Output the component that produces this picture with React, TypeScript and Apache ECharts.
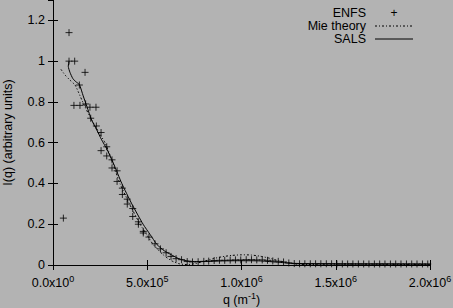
import React, { useEffect, useRef } from "react";
import * as echarts from "echarts";

// ENFS measured points (q in m^-1, intensity)
const enfsX = [55e3, 85e3, 85e3, 115e3, 111e3, 143e3, 140e3, 170e3, 173e3, 196e3, 200e3, 228e3, 230e3, 255e3, 255e3, 285e3, 285e3, 313e3, 313e3, 340e3, 340e3, 368e3, 368e3, 394e3, 394e3, 423e3, 423e3, 453e3, 453e3, 479e3, 479e3, 509e3, 541e3, 570e3, 600e3, 626e3, 653e3, 682e3, 712e3, 740e3, 770e3, 800e3, 826e3, 855e3, 883e3, 911e3, 940e3, 968e3, 996e3, 1025e3, 1053e3, 1081e3, 1110e3, 1138e3, 1166e3, 1195e3, 1223e3, 1251e3, 1280e3, 1308e3, 1336e3, 1365e3, 1393e3, 1421e3, 1450e3, 1478e3, 1506e3, 1535e3, 1563e3, 1591e3, 1620e3, 1648e3, 1676e3, 1705e3, 1733e3, 1761e3, 1790e3, 1818e3, 1846e3, 1875e3, 1903e3, 1931e3, 1960e3, 1988e3];
const enfsY = [0.23, 1.14, 1.0, 1.0, 0.783, 0.783, 0.883, 0.945, 0.79, 0.774, 0.72, 0.774, 0.682, 0.65, 0.561, 0.58, 0.535, 0.516, 0.476, 0.462, 0.41, 0.377, 0.346, 0.323, 0.299, 0.277, 0.238, 0.212, 0.2, 0.165, 0.157, 0.137, 0.104, 0.079, 0.06, 0.042, 0.031, 0.026, 0.017, 0.015, 0.016, 0.018, 0.019, 0.022, 0.023, 0.023, 0.024, 0.025, 0.025, 0.026, 0.026, 0.025, 0.025, 0.023, 0.02, 0.018, 0.015, 0.01, 0.007, 0.006, 0.006, 0.006, 0.006, 0.006, 0.006, 0.006, 0.005, 0.005, 0.005, 0.005, 0.005, 0.005, 0.005, 0.005, 0.005, 0.005, 0.005, 0.005, 0.005, 0.005, 0.005, 0.005, 0.005, 0.005];

// Mie theory curve
const mieX = [42e3, 64e3, 90e3, 117e3, 134e3, 161e3, 200e3, 250e3, 276e3, 300e3, 355e3, 400e3, 462e3, 500e3, 532e3, 585e3, 630e3, 670e3, 710e3, 750e3, 800e3, 850e3, 900e3, 950e3, 1000e3, 1050e3, 1100e3, 1150e3, 1200e3, 1250e3, 1300e3, 1350e3, 1400e3, 1500e3, 1600e3, 1700e3, 1800e3, 1900e3, 2000e3];
const mieY = [0.96, 0.932, 0.907, 0.883, 0.85, 0.793, 0.72, 0.64, 0.6, 0.545, 0.4, 0.31, 0.2, 0.145, 0.1, 0.05, 0.02, 0.006, 0.002, 0.006, 0.018, 0.031, 0.041, 0.047, 0.05, 0.049, 0.043, 0.033, 0.02, 0.01, 0.004, 0.002, 0.003, 0.005, 0.005, 0.004, 0.003, 0.002, 0.002];

// SALS curve
const salsX = [85e3, 81e3, 90e3, 105e3, 120e3, 140e3, 160e3, 180e3, 205e3, 232e3, 258e3, 285e3, 320e3, 365e3, 418e3, 478e3, 515e3, 552e3, 590e3, 628e3, 665e3, 700e3, 750e3, 800e3, 900e3, 1000e3, 1100e3, 1200e3, 1280e3, 1400e3, 1600e3, 1800e3, 2000e3];
const salsY = [1.0, 0.975, 0.945, 0.915, 0.9, 0.885, 0.83, 0.777, 0.711, 0.663, 0.614, 0.57, 0.5, 0.4, 0.3, 0.2, 0.15, 0.1, 0.07, 0.05, 0.032, 0.022, 0.017, 0.017, 0.02, 0.021, 0.02, 0.013, 0.008, 0.006, 0.005, 0.005, 0.004];

const seriesNames = ["ENFS", "Mie theory", "SALS"];
const xTitle = "q (m";
const xTitleSup = "-1";
const yTitle = "I(q) (arbitrary units)";

const FONT = "Liberation Sans, Arial, Helvetica, sans-serif";
const BG = "#b3b3b3";
const PLUS = "path://M5,0L5,10M0,5L10,5";

function fmtX(v: number): string {
  let exp = 0;
  let mant = 0;
  if (v !== 0) {
    exp = Math.floor(Math.log10(Math.abs(v)) + 1e-9);
    mant = v / Math.pow(10, exp);
  }
  return `{m|${mant.toFixed(1)}x10}{e|${exp}}`;
}

export default function App() {
  const ref = useRef<HTMLDivElement>(null);
  useEffect(() => {
    if (!ref.current) return;
    const chart = echarts.init(ref.current, null, { renderer: "svg" });
    const axisLine = { show: true, lineStyle: { color: "#000", width: 1 } };
    const axisTick = { show: true, inside: true, length: 5, lineStyle: { color: "#000", width: 1 } };
    const legendRight = 366;
    const sampleL = 375;
    const sampleR = 413;
    const rowY = [12.5, 25.5, 38.5];
    const rich = {
      m: { fontSize: 12.5, fontFamily: FONT, color: "#000" },
      e: { fontSize: 9, fontFamily: FONT, color: "#000", padding: [0, 0, 9, 0] },
    };
    chart.setOption({
      animation: false,
      backgroundColor: BG,
      textStyle: { fontFamily: FONT, color: "#000" },
      grid: { left: 53, right: 23, top: 0, bottom: 43, containLabel: false, outerBoundsMode: "none" },
      xAxis: [
        {
          type: "value",
          min: 0,
          max: 2e6,
          interval: 5e5,
          axisLine,
          axisTick,
          splitLine: { show: false },
          axisLabel: { margin: 9, formatter: fmtX, rich },
          name: `{m|${xTitle}}{e|${xTitleSup}}{m|)}`,
          nameLocation: "middle",
          nameGap: 26,
          nameMoveOverlap: false,
          nameTextStyle: { rich },
        },
        {
          type: "value",
          position: "top",
          min: 0,
          max: 2e6,
          interval: 5e5,
          axisLine,
          axisTick,
          axisLabel: { show: false },
          splitLine: { show: false },
        },
      ],
      yAxis: [
        {
          type: "value",
          min: 0,
          max: 1.3,
          interval: 0.2,
          axisLine,
          axisTick,
          splitLine: { show: false },
          axisLabel: {
            margin: 8,
            fontSize: 12.5,
            fontFamily: FONT,
            color: "#000",
            showMaxLabel: false,
            formatter: (v: number) => (Math.abs(v - 1.3) < 1e-6 ? "" : String(Math.round(v * 10) / 10)),
          },
          name: yTitle,
          nameLocation: "middle",
          nameGap: 39,
          nameMoveOverlap: false,
          nameTextStyle: { fontSize: 12.5, fontFamily: FONT, color: "#000" },
        },
        {
          type: "value",
          position: "right",
          min: 0,
          max: 1.3,
          interval: 0.2,
          axisLine,
          axisTick,
          axisLabel: { show: false },
          splitLine: { show: false },
        },
      ],
      series: [
        {
          name: seriesNames[0],
          type: "scatter",
          data: enfsX.map((x, i) => [x, enfsY[i]]),
          symbol: PLUS,
          symbolSize: 7,
          itemStyle: { color: "rgba(0,0,0,0)", borderColor: "#000", borderWidth: 1 },
          z: 3,
        },
        {
          name: seriesNames[1],
          type: "line",
          data: mieX.map((x, i) => [x, mieY[i]]),
          showSymbol: false,
          smooth: 0.2,
          lineStyle: { color: "#000", width: 1, type: [2, 2, 1, 2] },
        },
        {
          name: seriesNames[2],
          type: "line",
          data: salsX.map((x, i) => [x, salsY[i]]),
          showSymbol: false,
          smooth: 0.2,
          lineStyle: { color: "#000", width: 1 },
        },
      ],
      graphic: [
        ...seriesNames.map((n, i) => ({
          type: "text",
          x: legendRight,
          y: rowY[i],
          style: { text: n, fill: "#000", font: `12.5px ${FONT}`, align: "right", verticalAlign: "middle" },
        })),
        {
          type: "text",
          x: (sampleL + sampleR) / 2,
          y: rowY[0],
          style: { text: "+", fill: "#000", font: `12px ${FONT}`, align: "center", verticalAlign: "middle" },
        },
        {
          type: "line",
          shape: { x1: sampleL, y1: rowY[1] + 0.5, x2: sampleR, y2: rowY[1] + 0.5 },
          style: { stroke: "#000", lineWidth: 1, lineDash: [2, 2, 1, 2] },
        },
        {
          type: "line",
          shape: { x1: sampleL, y1: rowY[2] + 0.5, x2: sampleR, y2: rowY[2] + 0.5 },
          style: { stroke: "#000", lineWidth: 1 },
        },
      ],
    });
    return () => chart.dispose();
  }, []);
  return (
    <div
      ref={ref}
      style={{ position: "fixed", left: 0, top: 0, width: 453, height: 308 }}
    />
  );
}
